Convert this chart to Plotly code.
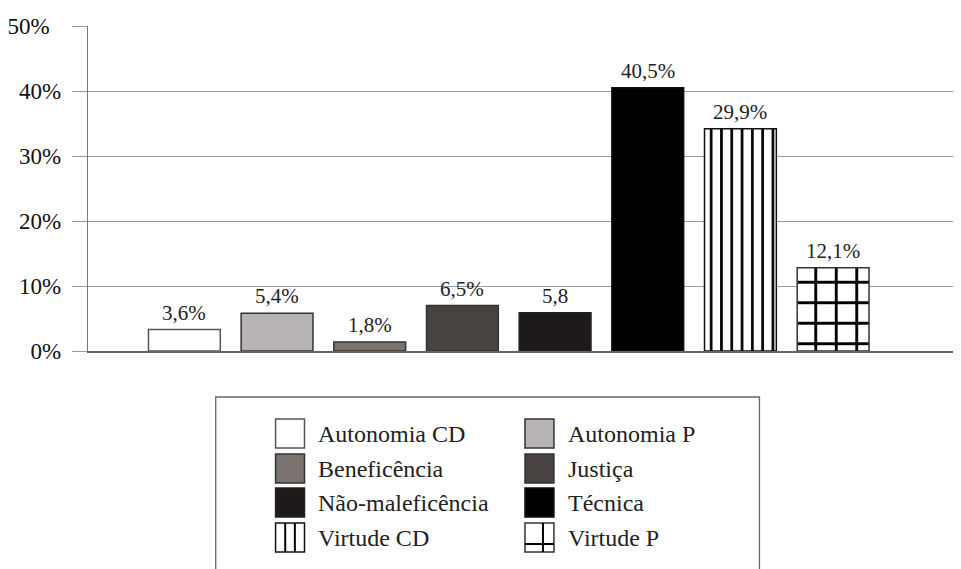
import plotly.graph_objects as go

# ---- data ----
categories = ["Autonomia CD", "Autonomia P", "Beneficência", "Justiça",
              "Não-maleficência", "Técnica", "Virtude CD", "Virtude P"]
bar_heights = [3.3, 5.8, 1.4, 7.0, 5.9, 40.5, 34.2, 12.8]   # heights as drawn
bar_labels = ["3,6%", "5,4%", "1,8%", "6,5%", "5,8", "40,5%", "29,9%", "12,1%"]
y_ticks = [0, 10, 20, 30, 40, 50]
y_tick_labels = ["0%", "10%", "20%", "30%", "40%", "50%\u00a0\u00a0"]

# ---- styles ----
fills = ["#ffffff", "#b8b4b3", "#7a7370", "#484341", "#1e1a19", "#000000", "#ffffff", "#ffffff"]
outlines = ["#555555", "#333333", "#333333", "#333333", "#222222", "#111111", "#111111", "#333333"]
patterns = ["", "", "", "", "", "", "|", "+"]
pattern_sizes = [8, 8, 8, 8, 8, 8, 10.3, 20.5]
pattern_solid = [0.2, 0.2, 0.2, 0.2, 0.2, 0.2, 0.26, 0.26]

OFF = 8  # page body margin
W, H = 961 - OFF, 569 - OFF
L, R, T, B = 86 - OFF, 0, 26 - OFF, 218
PW, PH = W - L - R, H - T - B


def px(x):
    """page x -> paper"""
    return (x - OFF - L) / PW


def py(y):
    """page y -> paper"""
    return (H - B - (y - OFF)) / PH


fig = go.Figure()
for i, c in enumerate(categories):
    fig.add_trace(go.Bar(
        x=[c], y=[bar_heights[i]], width=0.775, showlegend=False,
        marker=dict(color=fills[i], line=dict(color=outlines[i], width=1.5),
                    pattern=dict(shape=patterns[i], fgcolor="#000000", bgcolor=fills[i],
                                 fgopacity=1,
                                 size=pattern_sizes[i], solidity=pattern_solid[i],
                                 fillmode="overlay")),
        hoverinfo="skip",
    ))

SERIF = "Liberation Serif"
annotations = []
for i, c in enumerate(categories):
    annotations.append(dict(
        x=c, y=bar_heights[i], xref="x", yref="y", text=bar_labels[i],
        showarrow=False, yanchor="bottom", yshift=3,
        font=dict(family=SERIF, size=21, color="#222222")))

shapes = []
# legend frame
shapes.append(dict(type="rect", xref="paper", yref="paper",
                   x0=px(214), x1=px(759), y0=py(575), y1=py(397),
                   line=dict(color="#666666", width=1.3), fillcolor="rgba(0,0,0,0)", layer="above"))

col_x = [274, 524]
row_y = [419, 454, 488, 523]
sq = 29
for i, c in enumerate(categories):
    col = i % 2
    row = i // 2
    x0, y0 = col_x[col], row_y[row]
    shapes.append(dict(type="rect", xref="paper", yref="paper",
                       x0=px(x0), x1=px(x0 + sq), y0=py(y0 + sq), y1=py(y0),
                       fillcolor=fills[i], line=dict(color=outlines[i], width=1.5), layer="above"))
    if patterns[i] == "|":
        for k in (1, 2):
            xx = x0 + sq * k / 3
            shapes.append(dict(type="line", xref="paper", yref="paper",
                               x0=px(xx), x1=px(xx), y0=py(y0 + sq), y1=py(y0),
                               line=dict(color="#000000", width=2), layer="above"))
    elif patterns[i] == "+":
        xx = x0 + 18
        yy = y0 + 21
        shapes.append(dict(type="line", xref="paper", yref="paper",
                           x0=px(xx), x1=px(xx), y0=py(y0 + sq), y1=py(y0),
                           line=dict(color="#000000", width=2), layer="above"))
        shapes.append(dict(type="line", xref="paper", yref="paper",
                           x0=px(x0), x1=px(x0 + sq), y0=py(yy), y1=py(yy),
                           line=dict(color="#000000", width=2), layer="above"))
    annotations.append(dict(
        x=px(x0 + sq + 12), y=py(y0 + sq / 2), xref="paper", yref="paper",
        text=c, showarrow=False, xanchor="left", yanchor="middle",
        font=dict(family=SERIF, size=24, color="#222222")))

fig.update_layout(
    width=W, height=H,
    margin=dict(l=L, r=R, t=T, b=B, pad=0),
    paper_bgcolor="#ffffff", plot_bgcolor="#ffffff",
    bargap=0.2,
    shapes=shapes,
    annotations=annotations,
    xaxis=dict(type="category", range=[-1.04, 8.38], showticklabels=False,
               ticks="", showgrid=False, zeroline=False,
               showline=True, linecolor="#666666", linewidth=1.6, fixedrange=True),
    yaxis=dict(range=[0, 50], tickvals=y_ticks, ticktext=y_tick_labels,
               showgrid=True, gridcolor="#9a9a9a", gridwidth=1.3,
               zeroline=False, showline=True, linecolor="#777777", linewidth=1.3,
               ticks="outside", ticklen=15, tickcolor="#9a9a9a", tickwidth=1.3,
               ticklabelstandoff=6,
               tickfont=dict(family=SERIF, size=23, color="#111111")),
)

fig.write_html("out.html")
